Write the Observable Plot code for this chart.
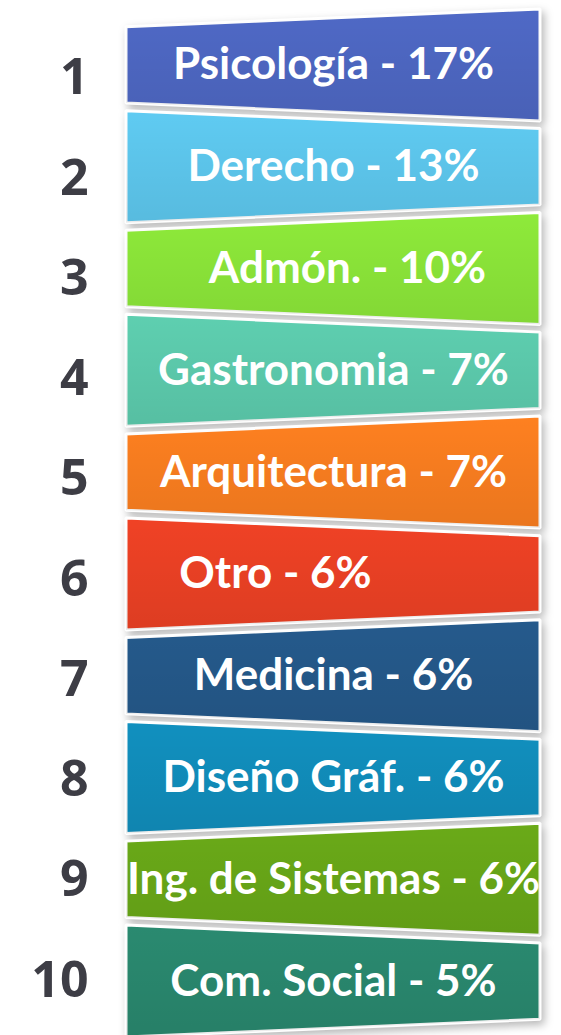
<!DOCTYPE html>
<html><head><meta charset="utf-8">
<script src="https://cdn.jsdelivr.net/npm/d3@7"></script>
<script src="https://cdn.jsdelivr.net/npm/@observablehq/plot@0.6"></script>
<style>
body{margin:0;background:#fff;}
#chart svg{display:block;}
.bands{filter:drop-shadow(3px 4px 4px rgba(0,0,0,0.28));}
</style></head><body><div id="chart"></div>
<script>
const ranks = [1, 2, 3, 4, 5, 6, 7, 8, 9, 10];
const careers = ["Psicología", "Derecho", "Admón.", "Gastronomia", "Arquitectura", "Otro", "Medicina", "Diseño Gráf.", "Ing. de Sistemas", "Com. Social"];
const shares = [17, 13, 10, 7, 7, 6, 6, 6, 6, 5];
const colors = ["#4f69c6", "#5fcbf2", "#8eea3a", "#5ecfb0", "#fe8020", "#f04225", "#255a8c", "#1190bf", "#6aaa18", "#2a8a70"];

const rows = careers.map((c, i) => ({rank: ranks[i], career: c, share: shares[i]}));

// ribbon geometry (layout only): alternating skew of each band
const NARROW = 0.375, WIDE = 0.55;
const edges = rows.flatMap(d => [0, 1].map(x => {
  const odd = d.rank % 2 === 1;
  const h = ((x === 0) === odd) ? NARROW : WIDE;
  return {career: d.career, x, y1: d.rank - h, y2: d.rank + h};
}));
const labelShift = {"Admón.": 14, "Otro": -58};
const PX = 414; // x range width in px

const chart = Plot.plot({
  width: 561, height: 1035, margin: 0,
  x: {domain: [0, 1], range: [126, 540], axis: null},
  y: {domain: [0.5, 10.5], range: [14, 1032], axis: null},
  color: {domain: careers, range: colors},
  marks: [
    Plot.areaY(edges, {x: "x", y1: "y1", y2: "y2", z: "career", fill: "career", stroke: "white", strokeWidth: 3, strokeLinejoin: "miter"}),
    Plot.areaY(edges, {x: "x", y1: "y1", y2: "y2", z: "career", fill: "url(#shade)"}),
    Plot.text(rows, {
      x: 0, y: d => d.rank + (13 - 14 * (d.rank - 1) / 9) / 101.8,
      text: d => String(d.rank), textAnchor: "end", dx: -38,
      fontSize: 50, fontWeight: 700, fontFamily: "Open Sans", fill: "#3d3d45"
    }),
    Plot.text(rows, {
      x: d => 0.5 + (labelShift[d.career] || 0) / PX, y: "rank",
      text: d => `${d.career} - ${d.share}%`,
      fontSize: 44, fontWeight: 700, fontFamily: "Lato", fill: "white"
    })
  ]
});
const svg = d3.select(chart);
svg.insert("defs", ":first-child").html(
  '<linearGradient id="shade" x1="0" y1="0" x2="0" y2="1">' +
  '<stop offset="0" stop-color="#000" stop-opacity="0"/>' +
  '<stop offset="1" stop-color="#000" stop-opacity="0.08"/></linearGradient>');
svg.selectAll('g[aria-label="area"]').filter((d, i) => i === 0).attr("class", "bands");
document.getElementById("chart").append(chart);
</script>
</body></html>
